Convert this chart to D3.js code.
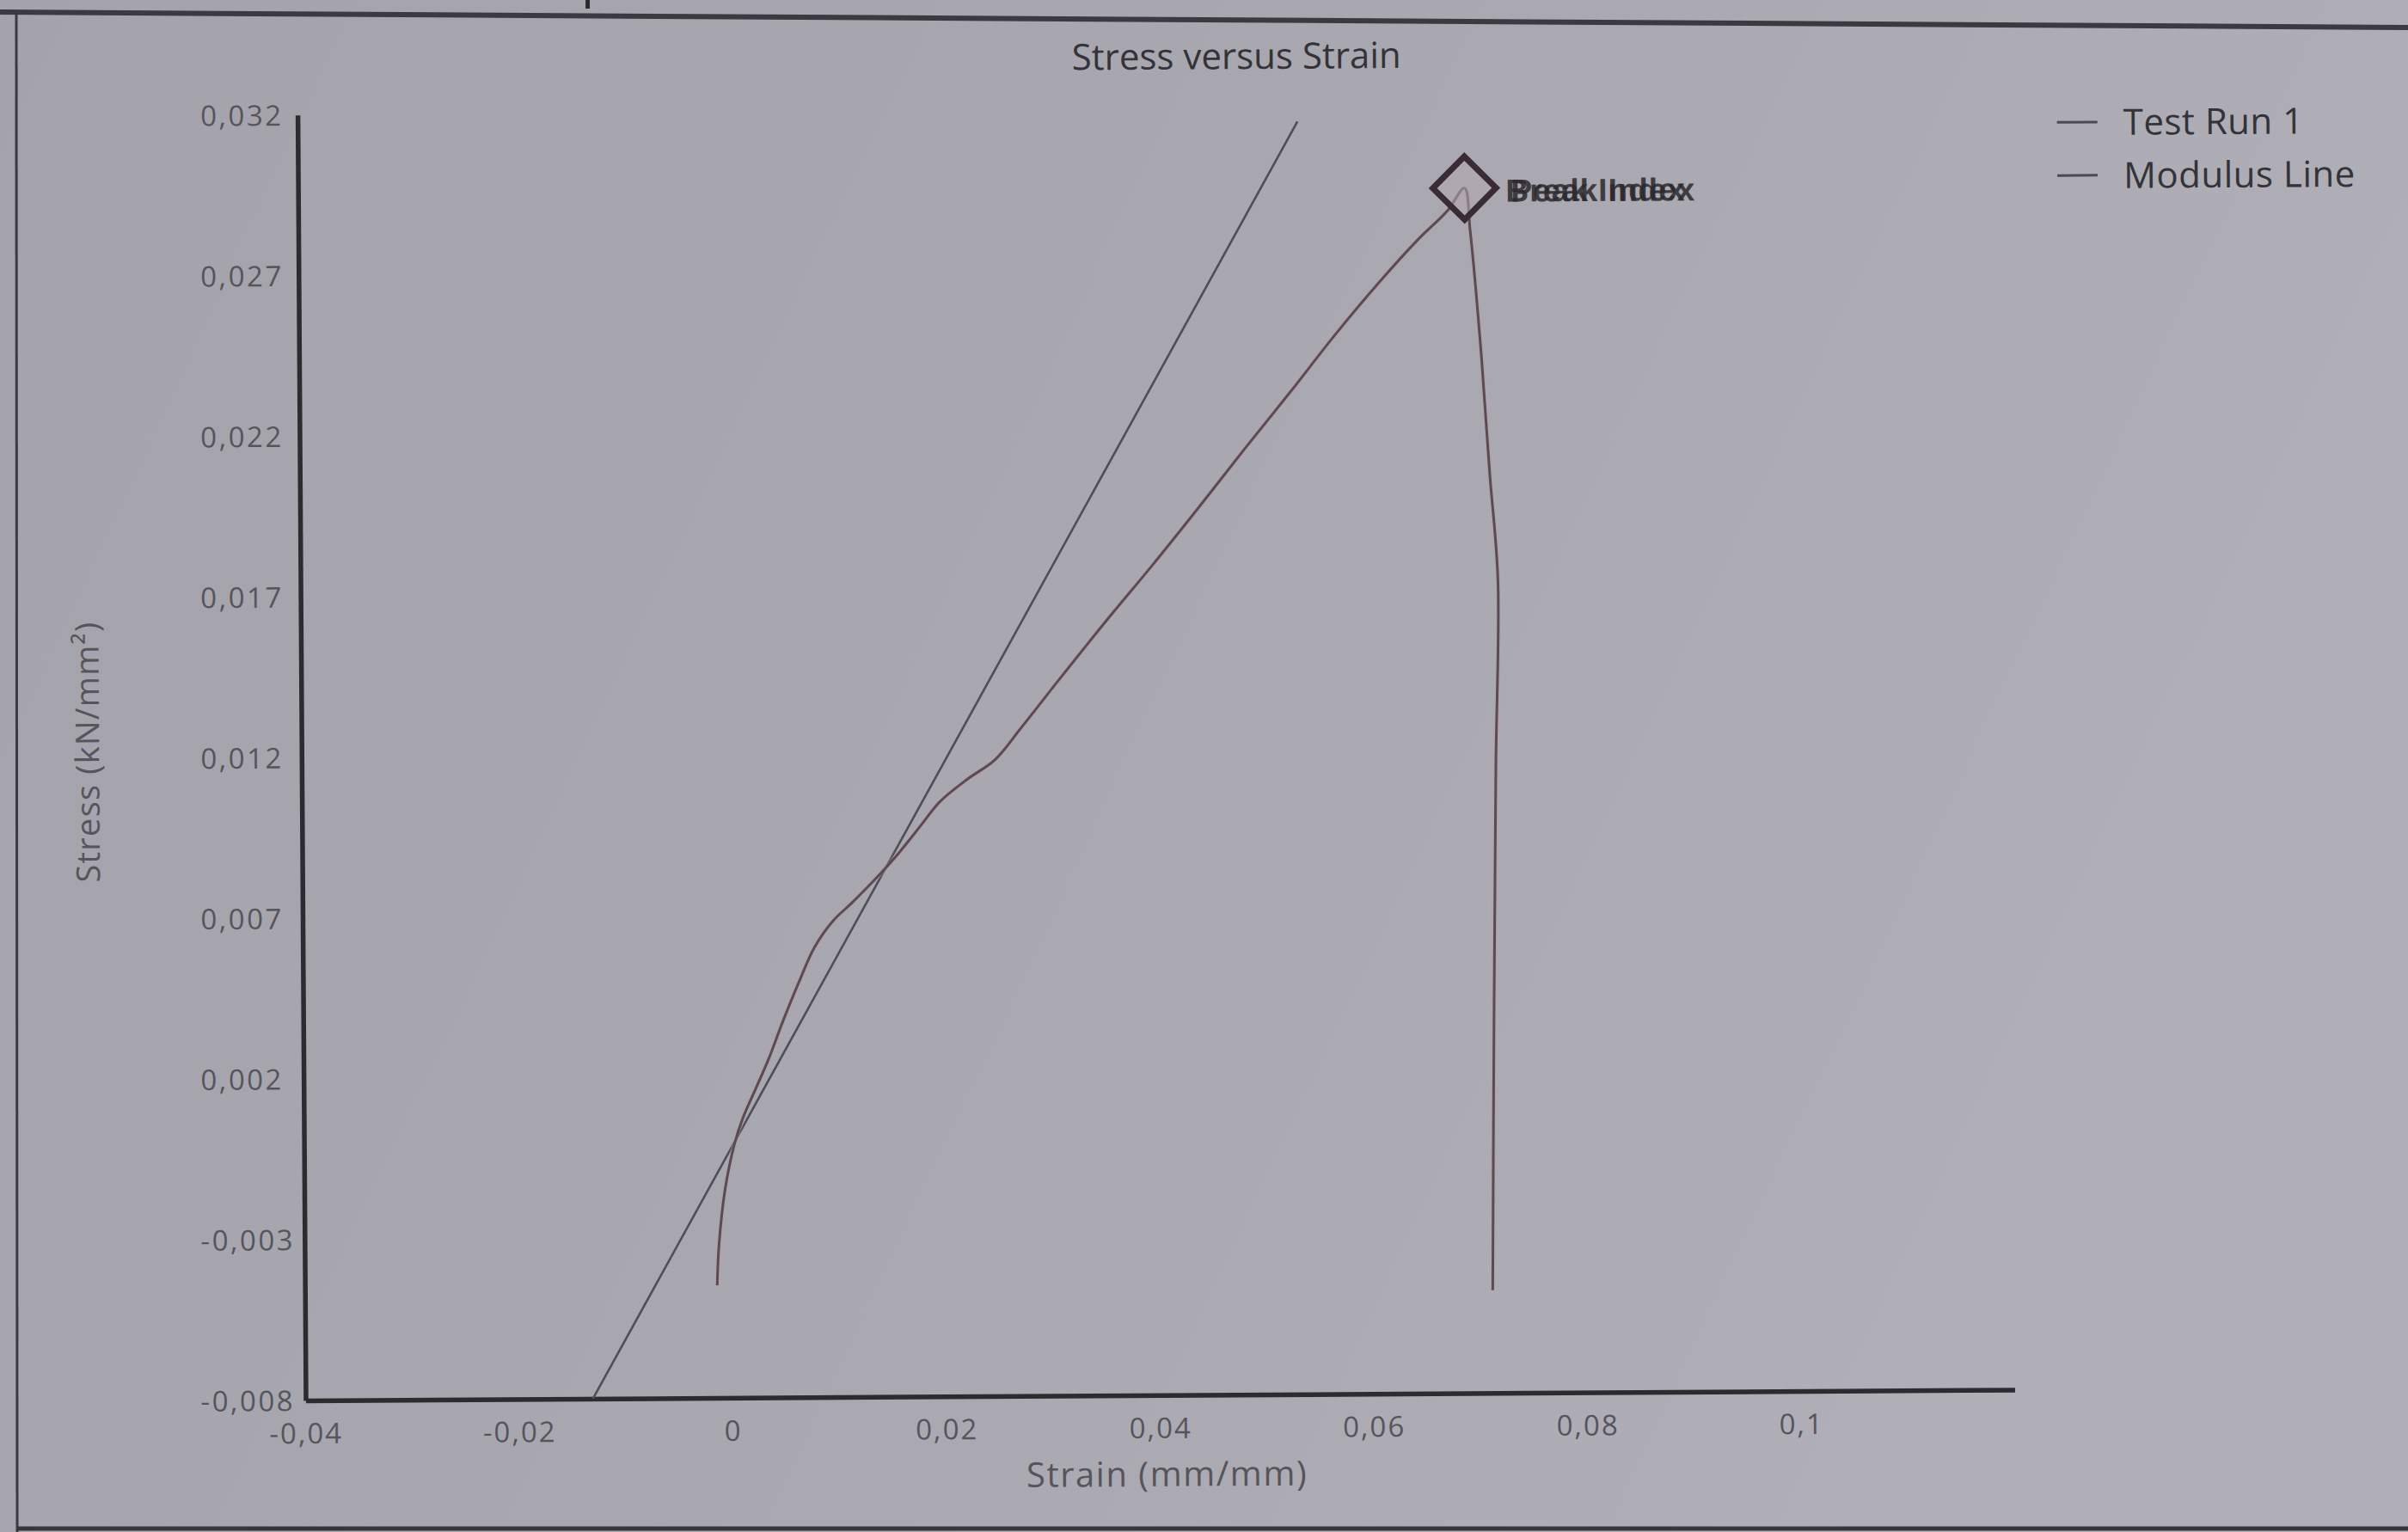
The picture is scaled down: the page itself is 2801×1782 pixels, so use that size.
<!DOCTYPE html>
<html><head><meta charset="utf-8">
<script src="https://cdn.jsdelivr.net/npm/d3@7"></script>
<style>html,body{margin:0;padding:0;background:#a7a6ae;overflow:hidden}</style>
</head><body><svg id="c" width="2801" height="1782"></svg>
<script>
// ---------- data ----------
const chartTitle = "Stress versus Strain";
const xAxisTitle = "Strain (mm/mm)";
const yAxisTitle = "Stress (kN/mm²)";
const seriesNames = ["Test Run 1", "Modulus Line"];
const xTicks = [-0.04, -0.02, 0, 0.02, 0.04, 0.06, 0.08, 0.1];
const xTickLabels = ["-0,04", "-0,02", "0", "0,02", "0,04", "0,06", "0,08", "0,1"];
const yTicks = [0.032, 0.027, 0.022, 0.017, 0.012, 0.007, 0.002, -0.003, -0.008];
const yTickLabels = ["0,032", "0,027", "0,022", "0,017", "0,012", "0,007", "0,002", "-0,003", "-0,008"];
const testStrain = [-0.0014, -0.0012, -0.0006, 0.0003, 0.0011, 0.0023, 0.0035, 0.0049, 0.0064, 0.0079,
  0.0096, 0.0115, 0.0136, 0.0158, 0.0180, 0.0197, 0.0223, 0.0249, 0.0274, 0.0310,
  0.0354, 0.0397, 0.0441, 0.0484, 0.0528, 0.0571, 0.0612, 0.0648, 0.0676, 0.0692,
  0.0697, 0.0707, 0.0714, 0.0721, 0.0718, 0.0715, 0.0712];
const testStress = [-0.0045, -0.0032, -0.0015, -0.0001, 0.0007, 0.0016, 0.0025, 0.0037, 0.0049, 0.0060,
  0.0068, 0.0074, 0.0081, 0.0089, 0.0098, 0.0105, 0.0112, 0.0118, 0.0128, 0.0143,
  0.0161, 0.0178, 0.0196, 0.0214, 0.0232, 0.0250, 0.0266, 0.0279, 0.0288, 0.0295,
  0.0282, 0.0242, 0.0206, 0.0173, 0.0115, 0.0043, -0.0048];
const modulusStrain = [-0.0131, 0.0536];
const modulusStress = [-0.008, 0.0316];
const peakStrain = [0.0692];
const peakStress = [0.0295];
const peakLabels = ["Break Index", "Peak Index"];

// ---------- drawing ----------
const svg = d3.select("#c");
const W = 2801, H = 1782;
const ox = 355.5, oy = 1629;

const defs = svg.append("defs");
const bg = defs.append("linearGradient").attr("id", "bg").attr("x1", 0).attr("y1", 0).attr("x2", 1).attr("y2", 0.3);
bg.append("stop").attr("offset", "0%").attr("stop-color", "#a4a3ab");
bg.append("stop").attr("offset", "55%").attr("stop-color", "#a9a8b0");
bg.append("stop").attr("offset", "100%").attr("stop-color", "#b0afb7");
svg.append("rect").attr("width", W).attr("height", H).attr("fill", "url(#bg)");

// frame of the photographed window
svg.append("text").attr("x", 676).attr("y", -4).attr("font-family", "Open Sans, sans-serif")
  .attr("font-size", 60).attr("fill", "#2a2a2e").text("p");
svg.append("line").attr("x1", 0).attr("y1", 14).attr("x2", W).attr("y2", 32)
  .attr("stroke", "#3a3a40").attr("stroke-width", 6);
svg.append("line").attr("x1", 19).attr("y1", 16).attr("x2", 20).attr("y2", 1782)
  .attr("stroke", "#3a3a40").attr("stroke-width", 3);
svg.append("line").attr("x1", 20).attr("y1", 1778).attr("x2", W).attr("y2", 1778)
  .attr("stroke", "#35353a").attr("stroke-width", 5);

const g = svg.append("g").attr("transform", `rotate(-0.36, ${ox}, ${oy})`);

const x = d3.scaleLinear().domain([-0.04, 0.12]).range([ox, ox + 8 * 248.5]);
const y = d3.scaleLinear().domain([-0.008, 0.032]).range([oy, oy - 8 * 186.9]);

const font = "Open Sans, sans-serif";

// title
g.append("text").attr("x", 1448).attr("y", 87).attr("text-anchor", "middle")
  .attr("font-family", font).attr("font-size", 42).attr("fill", "#333338").text(chartTitle);

// axes
const xAxis = d3.axisBottom(x).tickValues(xTicks).tickSize(0)
  .tickFormat((d, i) => xTickLabels[i]);
const gx = g.append("g").attr("transform", `translate(0,${oy})`).call(xAxis);
gx.select(".domain").attr("stroke", "#2b2b30").attr("stroke-width", 5.5);
gx.selectAll("text").attr("font-family", font).attr("font-size", 33).attr("fill", "#55555b")
  .attr("letter-spacing", 2).attr("dy", 0).attr("y", 50);

const yAxis = d3.axisLeft(y).tickValues(yTicks).tickSize(0)
  .tickFormat((d, i) => yTickLabels[i]);
const gy = g.append("g").attr("transform", `translate(${ox},0)`).call(yAxis);
gy.select(".domain").attr("stroke", "#2b2b30").attr("stroke-width", 5.5);
gy.selectAll("text").attr("font-family", font).attr("font-size", 33).attr("fill", "#55555b")
  .attr("letter-spacing", 2.5).attr("text-anchor", "start")
  .attr("x", (d, i) => -122 + (1 - i / 8) * 9).attr("dy", "0.35em");

// axis titles
g.append("text").attr("x", 1357).attr("y", 1735).attr("text-anchor", "middle")
  .attr("font-family", font).attr("font-size", 40).attr("fill", "#55555b").attr("letter-spacing", 1.5).text(xAxisTitle);
g.append("text").attr("transform", "translate(120,873) rotate(-90)").attr("text-anchor", "middle")
  .attr("font-family", font).attr("font-size", 38).attr("fill", "#55555b").attr("letter-spacing", 1.2).text(yAxisTitle);

// series
const testData = testStrain.map((v, i) => [v, testStress[i]]);
const modData = modulusStrain.map((v, i) => [v, modulusStress[i]]);
const line = d3.line().x(d => x(d[0])).y(d => y(d[1])).curve(d3.curveCatmullRom.alpha(0.5));

g.append("path").datum(modData).attr("d", line).attr("fill", "none")
  .attr("stroke", "#4c4e5a").attr("stroke-width", 2.6);
g.append("path").datum(testData).attr("d", line).attr("fill", "none")
  .attr("stroke", "#b89ca4").attr("stroke-width", 6).attr("opacity", 0.35);
g.append("path").datum(testData).attr("d", line).attr("fill", "none")
  .attr("stroke", "#5a4b52").attr("stroke-width", 3);

// peak marker
const px = x(peakStrain[0]), py = y(peakStress[0]);
const dia = d3.symbol().type(d3.symbolSquare).size(2700);
g.append("path").attr("d", dia()).attr("transform", `translate(${px},${py}) rotate(45)`)
  .attr("fill", "#b3a8b0").attr("fill-opacity", 0.55).attr("stroke", "#3a2c34").attr("stroke-width", 7);
peakLabels.forEach((t, i) => {
  g.append("text").attr("x", px + 48 + i * 6).attr("y", py + 16)
    .attr("font-family", "Liberation Sans, Arial, sans-serif").attr("font-weight", "bold")
    .attr("font-size", 37).attr("fill", "#2c2a2e").attr("opacity", 0.85).attr("letter-spacing", 1).text(t);
});

// legend
const legendColors = ["#4a4a50", "#4a4a50"];
seriesNames.forEach((n, i) => {
  const ly = 155 + i * 62;
  g.append("line").attr("x1", 2402).attr("x2", 2449).attr("y1", ly).attr("y2", ly)
    .attr("stroke", legendColors[i]).attr("stroke-width", 3);
  g.append("text").attr("x", 2479).attr("y", ly + 15).attr("font-family", font)
    .attr("font-size", 42).attr("fill", "#333338").attr("letter-spacing", 0.5).text(n);
});
</script></body></html>
